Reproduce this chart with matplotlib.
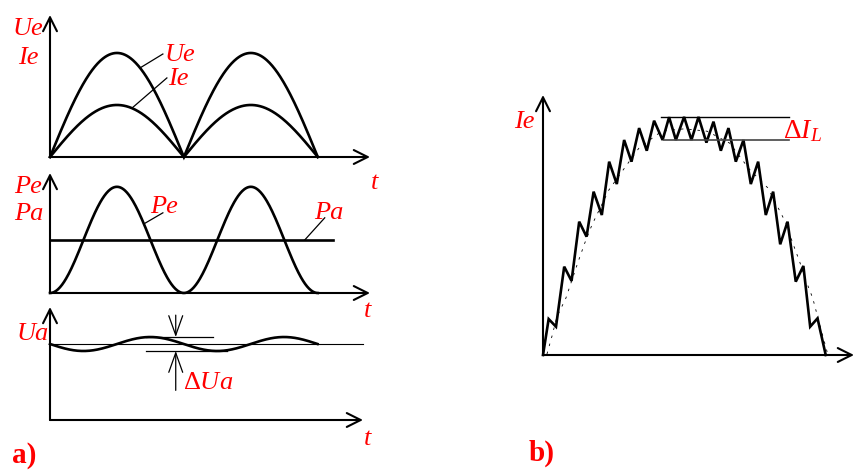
import numpy as np
import matplotlib.pyplot as plt

plt.rcParams['mathtext.fontset'] = 'custom'
plt.rcParams['mathtext.rm'] = 'Liberation Serif'
plt.rcParams['mathtext.it'] = 'Liberation Serif:italic'
plt.rcParams['mathtext.bf'] = 'Liberation Serif:bold'

W, H = 855, 470
RED = '#ff0000'
SERIF = ['Liberation Serif', 'DejaVu Serif']

# a) rectified mains, time in half periods
t_in = np.linspace(0, 2, 401)
ue_peak = 1.0
ie_peak = 0.5
pa_level = 0.5          # mean input power (relative)
ua_level = 1.0          # output voltage
ua_ripple = 0.092       # half of the ripple dUa

# b) inductor current of the PFC stage (zigzag) and its reference
t_b = [0, 0.20, 0.46, 0.75, 1.01, 1.28, 1.54, 1.79, 2.08, 2.34, 2.61, 2.87, 3.13,
       3.40, 3.67, 3.93, 4.23, 4.46, 4.70, 4.99, 5.25, 5.50, 5.78, 6.03, 6.29,
       6.56, 6.82, 7.09, 7.35, 7.61, 7.88, 8.14, 8.39, 8.65, 8.94, 9.21, 9.45,
       9.71, 10.0]
i_b = [0, 0.151, 0.119, 0.371, 0.311, 0.560, 0.497, 0.686, 0.588, 0.812, 0.718,
       0.903, 0.812, 0.953, 0.858, 0.984, 0.903, 0.999, 0.903, 1.0, 0.903, 1.0,
       0.892, 0.980, 0.858, 0.953, 0.812, 0.903, 0.718, 0.812, 0.588, 0.686,
       0.465, 0.560, 0.308, 0.374, 0.119, 0.154, 0]
t_ref = [0.14, 0.32, 0.49, 0.81, 1.24, 1.48, 1.73, 2.33, 2.76, 3.4, 4.2, 5.0,
         5.8, 6.6, 7.3, 7.95, 8.30, 8.59, 8.83, 9.08, 9.29, 9.54, 9.82, 10.07]
i_ref = [0.004, 0.080, 0.160, 0.239, 0.391, 0.471, 0.546, 0.693, 0.765, 0.87,
         0.94, 0.95, 0.94, 0.89, 0.78, 0.702, 0.622, 0.555, 0.471, 0.391, 0.315,
         0.239, 0.113, 0.004]
di_top = 1.0
di_bottom = 0.903

fig = plt.figure(figsize=(W / 100, H / 100), dpi=100)


def panel(origin, tip, xmax, ymax):
    # axes whose lower left corner is the origin of the arrowed axes
    x0, y0 = origin
    x1, y1 = tip
    ax = fig.add_axes([x0 / W, 1 - y0 / H, (x1 - x0) / W, (y0 - y1) / H])
    ax.set_xlim(0, xmax)
    ax.set_ylim(0, ymax)
    ax.axis('off')
    for xy in [(xmax, 0), (0, ymax)]:
        ax.annotate('', xy=xy, xytext=(0, 0), annotation_clip=False,
                    arrowprops=dict(arrowstyle='->,head_length=1.0,head_width=0.5',
                                    lw=1.5, color='black', shrinkA=0, shrinkB=0,
                                    mutation_scale=10))
    return ax


def label(x, y, s, size=19, style='italic', weight='normal'):
    fig.text(x / W, 1 - y / H, s, color=RED, family=SERIF, fontsize=size,
             style=style, weight=weight, va='baseline', ha='left')


curve = dict(color='black', lw=1.9, solid_joinstyle='miter', clip_on=False)
thin = dict(color='black', lw=0.9, clip_on=False)

# Ue, Ie
ax1 = panel((50, 157), (370, 15), 2.39, 1.365)
ax1.plot(t_in, ue_peak * np.abs(np.sin(np.pi * t_in)), **curve)
ax1.plot(t_in, ie_peak * np.abs(np.sin(np.pi * t_in)), **curve)
ax1.plot([0.672, 0.843], [0.856, 0.990], **thin)
ax1.plot([0.612, 0.873], [0.47, 0.760], **thin)

# Pe, Pa
ax2 = panel((50, 293), (370, 173), 2.39, 1.13)
pe = (ue_peak * np.abs(np.sin(np.pi * t_in))) * (ie_peak * np.abs(np.sin(np.pi * t_in)))
ax2.plot(t_in, pe / (ue_peak * ie_peak), **curve)
ax2.plot([0, 2.11], [pa_level, pa_level], **curve)
ax2.plot([0.70, 0.843], [0.65, 0.755], **thin)
ax2.plot([1.903, 2.052], [pa_level, 0.708], **thin)

# Ua with ripple
ax3 = panel((50, 420), (363, 307), 2.34, 1.487)
ax3.plot([0, 2.34], [ua_level, ua_level], color='black', lw=0.8, clip_on=False)
ax3.plot(t_in, ua_level - ua_ripple * np.sin(2 * np.pi * t_in), **curve)
ax3.plot([0.72, 1.22], [ua_level + ua_ripple] * 2, **thin)
ax3.plot([0.72, 1.32], [ua_level - ua_ripple] * 2, **thin)
for y_from, y_to in [(1.38, ua_level + ua_ripple), (0.39, ua_level - ua_ripple)]:
    ax3.annotate('', xy=(0.94, y_to), xytext=(0.94, y_from), annotation_clip=False,
                 arrowprops=dict(arrowstyle='->,head_length=1.4,head_width=0.5',
                                 lw=0.9, color='black', shrinkA=0, shrinkB=0,
                                 mutation_scale=10))

# b) inductor current
axb = panel((543, 355), (854, 95), 11.0, 1.092)
axb.plot(t_ref, i_ref, color='black', lw=0.6, ls=(0, (3, 7)), clip_on=False)
axb.plot(t_b, i_b, **curve)
axb.plot([4.17, 8.69], [di_top] * 2, color='black', lw=1.0, clip_on=False)
axb.plot([4.28, 8.69], [di_bottom] * 2, color='#444444', lw=1.2, clip_on=False)

label(13, 35, 'Ue')
label(18, 64, 'Ie')
label(165, 61, 'Ue')
label(168, 85, 'Ie')
label(14, 193, 'Pe')
label(14, 220, 'Pa')
label(150, 213, 'Pe')
label(314, 219, 'Pa')
label(371, 189, 't')
label(364, 317, 't')
label(364, 445, 't')
label(17, 340, 'Ua')
label(183, 389, r'$\Delta Ua$', style='normal')
label(12, 463, 'a)', size=21, style='normal', weight='bold')
label(529, 461, 'b)', size=21, style='normal', weight='bold')
label(514, 128, 'Ie')
label(783, 138, r'$\Delta I_L$', size=20, style='normal')

fig.savefig('out.png', dpi=100)
